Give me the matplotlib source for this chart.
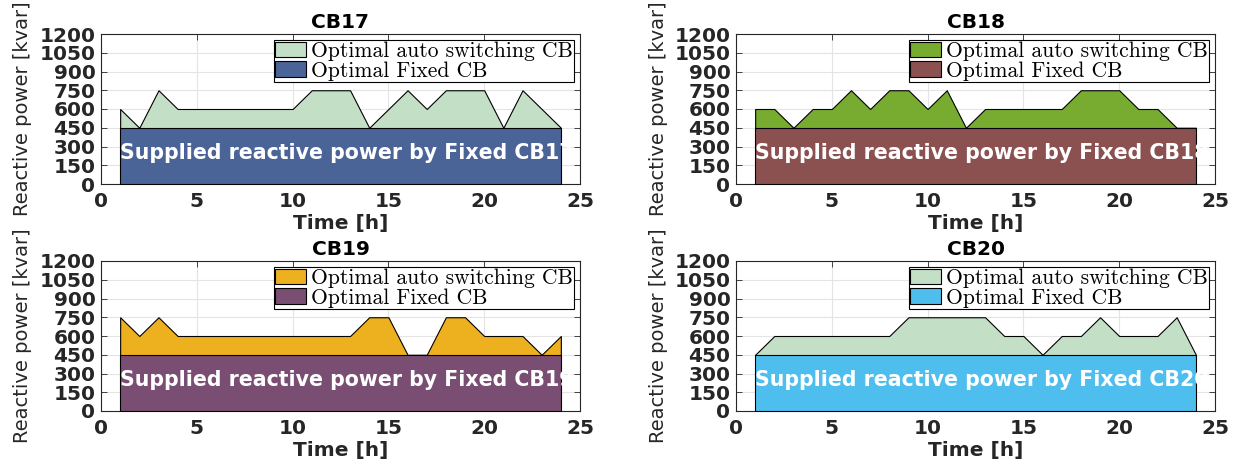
import matplotlib
matplotlib.use("Agg")
import matplotlib.pyplot as plt
from matplotlib.patches import Patch

hours = list(range(1, 25))

auto_cb17 = [600, 450, 750, 600, 600, 600, 600, 600, 600, 600, 750, 750,
             750, 450, 600, 750, 600, 750, 750, 750, 450, 750, 600, 450]
auto_cb18 = [600, 600, 450, 600, 600, 750, 600, 750, 750, 600, 750, 450,
             600, 600, 600, 600, 600, 750, 750, 750, 600, 600, 450, 450]
auto_cb19 = [750, 600, 750, 600, 600, 600, 600, 600, 600, 600, 600, 600,
             600, 750, 750, 450, 450, 750, 750, 600, 600, 600, 450, 600]
auto_cb20 = [450, 600, 600, 600, 600, 600, 600, 600, 750, 750, 750, 750,
             750, 600, 600, 450, 600, 600, 750, 600, 600, 600, 750, 450]
fixed_level = 450

names = ["CB17", "CB18", "CB19", "CB20"]
auto_series = [auto_cb17, auto_cb18, auto_cb19, auto_cb20]
auto_colors = ["#c3dfc6", "#77ac30", "#edb120", "#c3dfc6"]
fixed_colors = ["#4b6497", "#8b5150", "#7a4e73", "#4dbeee"]

yticks = list(range(0, 1201, 150))
xticks = [0, 5, 10, 15, 20, 25]

sans = ["DejaVu Sans"]
serif = ["cmr10", "DejaVu Serif"]
dark = "#262626"

fig = plt.figure(figsize=(12.48, 4.67), dpi=100)
W, H = 1248, 467
boxes = [(101, 34, 580, 184), (736, 34, 1215, 184),
         (101, 261, 580, 411), (736, 261, 1215, 411)]

for i, name in enumerate(names):
    x0, y0, x1, y1 = boxes[i]
    ax = fig.add_axes([x0 / W, 1 - y1 / H, (x1 - x0) / W, (y1 - y0) / H])
    fixed = [fixed_level] * len(hours)

    ax.fill_between(hours, 0, auto_series[i], facecolor=auto_colors[i],
                    edgecolor="black", linewidth=0.8, zorder=2)
    fx = ax.fill_between(hours, 0, fixed, facecolor=fixed_colors[i],
                         edgecolor="black", linewidth=0.8, zorder=3)

    # label inside the fixed block, cut off where the block ends
    txt = ax.text(1, 245, "Supplied reactive power by Fixed " + name,
                  color="white", fontweight="bold", fontsize=14.8,
                  family=sans, va="center", ha="left", zorder=4)
    txt.set_clip_path(fx.get_paths()[0], ax.transData)

    ax.set_xlim(0, 25)
    ax.set_ylim(0, 1200)
    ax.set_xticks(xticks)
    ax.set_yticks(yticks)
    ax.grid(True, color="#e4e4e4", linewidth=0.8, zorder=0)
    ax.set_axisbelow(True)
    ax.tick_params(direction="in", top=True, right=True, length=4,
                   width=0.6, color=dark)
    ax.tick_params(axis="x", pad=6)
    ax.tick_params(axis="y", pad=4)
    for lab in ax.get_xticklabels() + ax.get_yticklabels():
        lab.set_fontweight("bold")
        lab.set_fontsize(14.5)
        lab.set_family(sans)
        lab.set_color(dark)
    for sp in ax.spines.values():
        sp.set_linewidth(0.8)
        sp.set_color(dark)

    ax.set_title(name, fontweight="bold", fontsize=14.5, family=sans, pad=4)
    ax.set_xlabel("Time [h]", fontweight="bold", fontsize=14.5, family=sans,
                  labelpad=2, color=dark)
    ax.set_ylabel("Reactive power [kvar]", fontsize=14, family=sans,
                  labelpad=5, color=dark)

    handles = [Patch(facecolor=auto_colors[i], edgecolor="black", linewidth=0.8),
               Patch(facecolor=fixed_colors[i], edgecolor="black", linewidth=0.8)]
    leg = ax.legend(handles, ["Optimal auto switching CB", "Optimal Fixed CB"],
                    loc="upper right", prop={"family": serif, "size": 15.5},
                    fancybox=False, framealpha=1, edgecolor="black",
                    borderpad=0.05, handlelength=1.45, handleheight=0.7,
                    handletextpad=0.2, labelspacing=0.0,
                    borderaxespad=0.3)
    leg.get_frame().set_linewidth(0.8)
    leg.set_zorder(5)

fig.savefig("out.png", dpi=100)
